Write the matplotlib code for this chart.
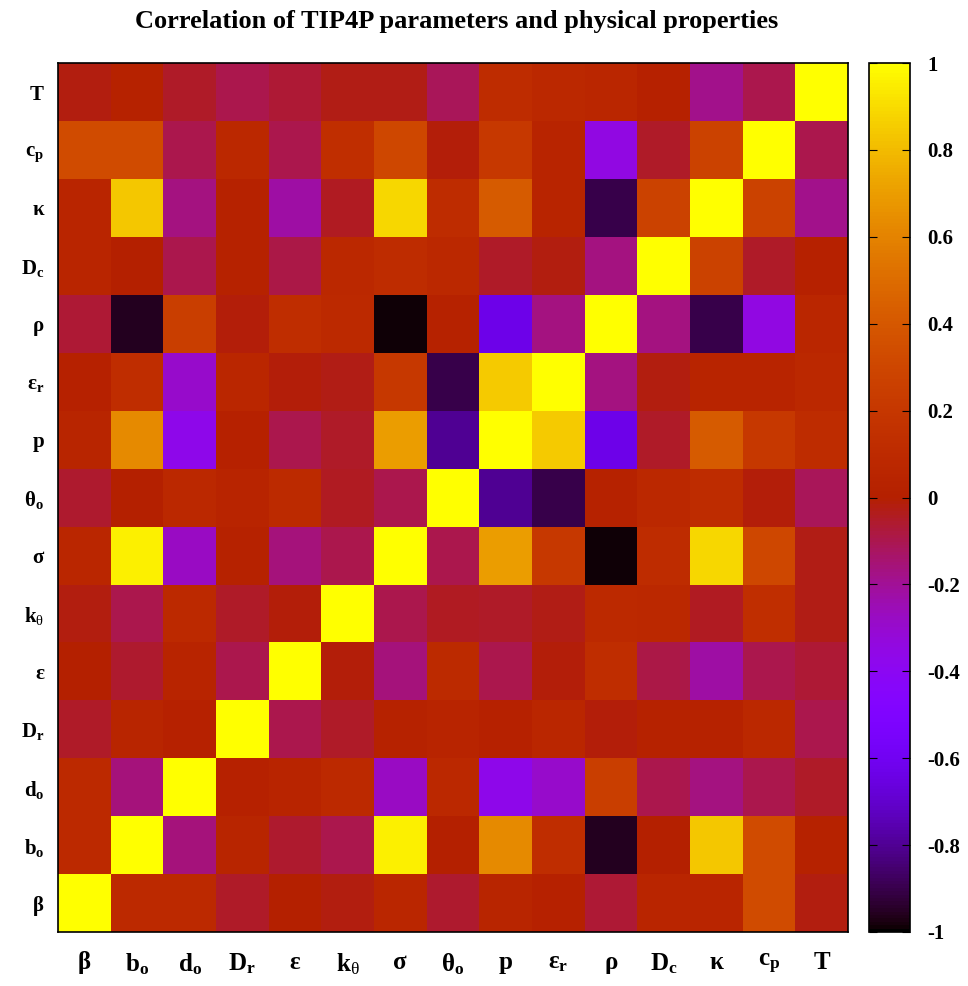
import numpy as np
import matplotlib
matplotlib.use("Agg")
import matplotlib.pyplot as plt
from matplotlib.colors import ListedColormap

plt.rcParams['font.family'] = ['Liberation Serif', 'DejaVu Serif']
plt.rcParams['mathtext.fontset'] = 'custom'
plt.rcParams['mathtext.rm'] = 'Liberation Serif'
plt.rcParams['mathtext.bf'] = 'Liberation Serif:bold'
plt.rcParams['mathtext.it'] = 'Liberation Serif:italic'

# variables, from bottom/left to top/right
labels = ['β', r'b$_\mathbf{o}$', r'd$_\mathbf{o}$', r'D$_\mathbf{r}$', 'ε',
          r'k$_\mathrm{\theta}$', 'σ', r'θ$_\mathbf{o}$', 'p', r'ε$_\mathbf{r}$',
          'ρ', r'D$_\mathbf{c}$', 'κ', r'c$_\mathbf{p}$', 'T']

# correlation matrix (row i, column j)
corr = [
    [1.00, 0.09, 0.09, -0.05, 0.00, -0.02, 0.07, -0.06, 0.05, 0.02, -0.07, 0.06, 0.06, 0.33, -0.02],
    [0.09, 1.00, -0.16, 0.05, -0.06, -0.10, 0.96, 0.00, 0.63, 0.13, -0.96, 0.00, 0.84, 0.33, 0.03],
    [0.09, -0.16, 1.00, 0.02, 0.04, 0.09, -0.28, 0.08, -0.37, -0.29, 0.25, -0.10, -0.17, -0.10, -0.05],
    [-0.05, 0.05, 0.02, 1.00, -0.10, -0.05, 0.03, 0.04, 0.02, 0.07, -0.01, 0.03, 0.03, 0.08, -0.10],
    [0.00, -0.06, 0.04, -0.10, 1.00, -0.01, -0.16, 0.10, -0.10, -0.01, 0.13, -0.09, -0.22, -0.10, -0.07],
    [-0.02, -0.10, 0.09, -0.05, -0.01, 1.00, -0.10, -0.04, -0.05, -0.03, 0.09, 0.08, -0.04, 0.14, -0.03],
    [0.07, 0.96, -0.28, 0.03, -0.16, -0.10, 1.00, -0.10, 0.70, 0.21, -0.99, 0.12, 0.89, 0.31, -0.03],
    [-0.06, 0.00, 0.08, 0.04, 0.10, -0.04, -0.10, 1.00, -0.80, -0.90, 0.03, 0.08, 0.12, -0.01, -0.11],
    [0.05, 0.63, -0.37, 0.02, -0.10, -0.05, 0.70, -0.80, 1.00, 0.85, -0.63, -0.05, 0.42, 0.21, 0.12],
    [0.02, 0.13, -0.29, 0.07, -0.01, -0.03, 0.21, -0.90, 0.85, 1.00, -0.17, -0.02, 0.04, 0.04, 0.08],
    [-0.07, -0.96, 0.25, -0.01, 0.13, 0.09, -0.99, 0.03, -0.63, -0.17, 1.00, -0.17, -0.90, -0.35, 0.07],
    [0.06, 0.00, -0.10, 0.03, -0.09, 0.08, 0.12, 0.08, -0.05, -0.02, -0.17, 1.00, 0.28, -0.05, 0.02],
    [0.06, 0.84, -0.17, 0.03, -0.22, -0.04, 0.89, 0.12, 0.42, 0.04, -0.90, 0.28, 1.00, 0.28, -0.18],
    [0.33, 0.33, -0.10, 0.08, -0.10, 0.14, 0.31, -0.01, 0.21, 0.04, -0.35, -0.05, 0.28, 1.00, -0.10],
    [-0.02, 0.03, -0.05, -0.10, -0.07, -0.03, -0.03, -0.11, 0.12, 0.08, 0.07, 0.02, -0.18, -0.10, 1.00],
]
cb_ticks = [-1, -0.8, -0.6, -0.4, -0.2, 0, 0.2, 0.4, 0.6, 0.8, 1]
cb_labels = ['-1', '-0.8', '-0.6', '-0.4', '-0.2', '0', '0.2', '0.4', '0.6', '0.8', '1']

# gnuplot default palette (rgbformulae 7,5,15)
x = np.linspace(0, 1, 256)
rgb = np.stack([np.sqrt(x), x ** 3, np.clip(np.sin(2 * np.pi * x), 0, 1)], axis=1)
cmap = ListedColormap(rgb)

fig = plt.figure(figsize=(9.68, 9.86), dpi=100)
ax = fig.add_axes([0.0599, 0.0548, 0.8161, 0.8812])
cax = fig.add_axes([0.898, 0.0548, 0.0424, 0.8812])

im = ax.imshow(np.array(corr), cmap=cmap, vmin=-1, vmax=1, origin='lower',
               aspect='auto', interpolation='nearest')
n = len(labels)
ax.set_xticks(range(n))
ax.set_xticklabels(labels, fontsize=18, fontweight='bold')
ax.set_yticks(range(n))
ax.set_yticklabels(labels, fontsize=15, fontweight='bold')
ax.tick_params(axis='x', length=0, pad=14)
ax.tick_params(axis='y', length=0, pad=10)
for s in ax.spines.values():
    s.set_linewidth(1.2)

fig.text(0.472, 0.978, 'Correlation of TIP4P parameters and physical properties',
         fontsize=19, fontweight='bold', ha='center', va='center')

cb = fig.colorbar(im, cax=cax, ticks=cb_ticks)
cb.ax.set_yticklabels(cb_labels, fontsize=15, fontweight='bold')
cb.ax.tick_params(direction='in', length=6, left=True, right=True, pad=12)
cb.outline.set_linewidth(1.2)

fig.savefig('out.png', dpi=100)
